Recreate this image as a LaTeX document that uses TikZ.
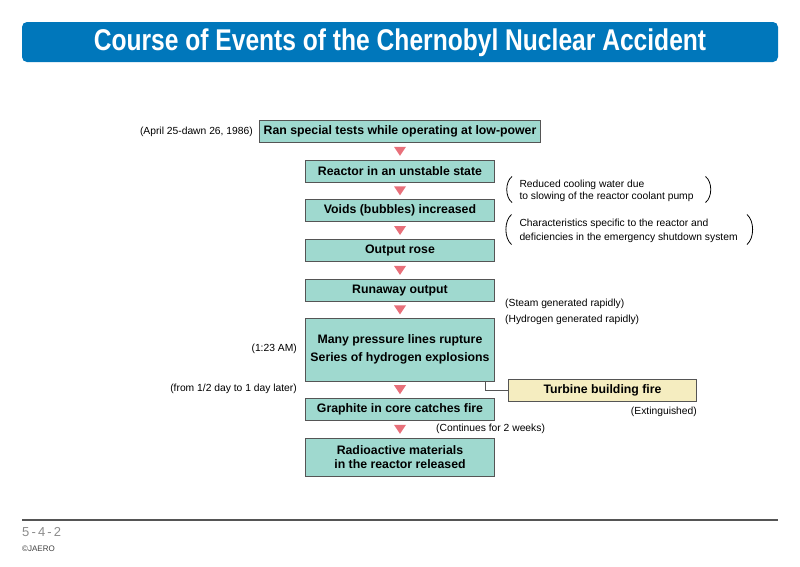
\documentclass[tikz,border=0pt]{standalone}
\usepackage{fontspec}
\setmainfont{Liberation Sans}
\usetikzlibrary{calc}
\definecolor{banner}{RGB}{0,119,187}
\definecolor{boxfill}{RGB}{159,217,207}
\definecolor{boxline}{RGB}{85,85,85}
\definecolor{trifill}{RGB}{232,112,122}
\definecolor{yelfill}{RGB}{245,237,192}
\definecolor{foot}{RGB}{140,140,140}
\tikzset{
  x=1pt,y=-1pt,
  stepbox/.style={draw=boxline,line width=0.9pt,fill=boxfill,font=\fontsize{12.3}{14}\selectfont\bfseries,align=center,inner sep=0pt},
  firebox/.style={stepbox,fill=yelfill},
  note/.style={font=\fontsize{10.3}{12}\selectfont,inner sep=0pt},
  tri/.style={fill=trifill,draw=none},
  paren/.style={draw=black,line width=0.8pt},
  link/.style={draw=boxline,line width=0.9pt}
}
\newcommand{\flowtri}[2]{\fill[tri] ($(#1.south)!0.5!(#2.north)$) ++(-6,-4.5) -- ++(12,0) -- ++(-6,9) -- cycle;}
\begin{document}
\begin{tikzpicture}
\useasboundingbox (0,0) rectangle (800,566);
\fill[white] (0,0) rectangle (800,566);
% banner
\node[fill=banner,rounded corners=5pt,minimum width=756pt,minimum height=40pt,inner sep=0pt] (banner) at (400,42) {};
\node[text=white,font=\fontsize{30}{32}\selectfont\bfseries,inner sep=0pt] (title) at (400,43) {\scalebox{0.82}[1]{Course of Events of the Chernobyl Nuclear Accident}};
% boxes
\node[stepbox,minimum width=281pt,minimum height=22.5pt] (b1) at (400,131.5) {Ran special tests while operating at low-power};
\node[stepbox,minimum width=189pt,minimum height=22.5pt] (b2) at (400,171.2) {Reactor in an unstable state};
\node[stepbox,minimum width=189pt,minimum height=22.5pt] (b3) at (400,210.5) {Voids (bubbles) increased};
\node[stepbox,minimum width=189pt,minimum height=22.5pt] (b4) at (400,250.5) {Output rose};
\node[stepbox,minimum width=189pt,minimum height=22.5pt] (b5) at (400,290.3) {Runaway output};
\node[stepbox,minimum width=189pt,minimum height=62.7pt,font=\fontsize{12.3}{18}\selectfont\bfseries] (b6) at (400,349.7) {Many pressure lines rupture\\Series of hydrogen explosions};
\node[stepbox,minimum width=189pt,minimum height=22.4pt] (b7) at (400,409.5) {Graphite in core catches fire};
\node[stepbox,minimum width=189pt,minimum height=38pt,font=\fontsize{12.3}{14.5}\selectfont\bfseries] (b8) at (400,457) {Radioactive materials\\in the reactor released};
\node[firebox,minimum width=188.4pt,minimum height=22.4pt] (fire) at (602.5,390.5) {Turbine building fire};
% triangles
\flowtri{b1}{b2}
\flowtri{b2}{b3}
\flowtri{b3}{b4}
\flowtri{b4}{b5}
\flowtri{b5}{b6}
\flowtri{b6}{b7}
\flowtri{b7}{b8}
% connector to fire
\coordinate (bend) at (485.7,390.5);
\draw[link] (b6.south -| bend) -- (bend) -- (fire.west);
% notes
\node[note,anchor=east] (n1) at (253,131.5) {(April 25-dawn 26, 1986)};
\node[note,anchor=east] (n2) at (297,349) {(1:23 AM)};
\node[note,anchor=east] (n3) at (297,389) {(from 1/2 day to 1 day later)};
\node[note,anchor=west] (n4) at (505,304) {(Steam generated rapidly)};
\node[note,anchor=west] (n5) at (505,319.5) {(Hydrogen generated rapidly)};
\node[note,anchor=east] (n6) at (697,411.5) {(Extinguished)};
\node[note,anchor=west] (n7) at (436,429) {(Continues for 2 weeks)};
\node[note,anchor=west,align=left,font=\fontsize{10.3}{12}\selectfont] (n8) at (519.3,190.5) {Reduced cooling water due\\to slowing of the reactor coolant pump};
\node[note,anchor=west,align=left,font=\fontsize{10.3}{14}\selectfont] (n9) at (519.3,230.5) {Characteristics specific to the reactor and\\deficiencies in the emergency shutdown system};
% parentheses
\draw[paren] (512,176.5) .. controls (505,182) and (505,197) .. (512,202.5);
\draw[paren] (705.5,176.5) .. controls (712.5,182) and (712.5,197) .. (705.5,202.5);
\draw[paren] (511.5,214.5) .. controls (504,221) and (504,238) .. (511.5,244.5);
\draw[paren] (747,214.5) .. controls (754.5,221) and (754.5,238) .. (747,244.5);
% footer
\draw[line width=1.3pt,draw=boxline] (22,520) -- (778,520);
\node[anchor=west,inner sep=0pt,text=foot,font=\fontsize{13}{15}\selectfont] (pg) at (22,532.5) {5\,-\,4\,-\,2};
\node[anchor=west,inner sep=0pt,font=\fontsize{8}{9}\selectfont,text=black!75] (cr) at (22,549) {©JAERO};
\end{tikzpicture}
\end{document}
